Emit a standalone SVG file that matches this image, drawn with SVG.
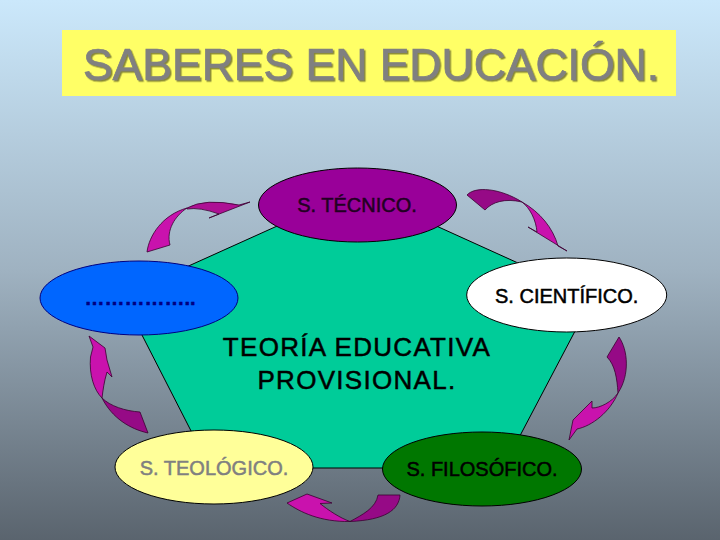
<svg xmlns="http://www.w3.org/2000/svg" width="720" height="540" viewBox="0 0 720 540">
<defs>
<linearGradient id="bg" x1="0" y1="0" x2="0" y2="1">
<stop offset="0" stop-color="#cbe8fb"/>
<stop offset="0.5" stop-color="#9fb2c1"/>
<stop offset="1" stop-color="#5a646e"/>
</linearGradient>
<filter id="sh" x="-5%" y="-20%" width="110%" height="140%">
<feDropShadow dx="1.5" dy="1.5" stdDeviation="0.4" flood-color="#7a7a30" flood-opacity="0.9"/>
</filter>
<style>
.lbl{font-family:"Liberation Sans",Arial,sans-serif;font-size:20px;text-anchor:middle;stroke-width:0.5px}
.ell{stroke:#000;stroke-width:1}
.dk{fill:#960a86;stroke:#3a0030;stroke-width:0.8;stroke-linejoin:round}
.br{fill:#c912ad;stroke:#3a0030;stroke-width:0.8;stroke-linejoin:round}
.ctr{font-family:"Liberation Sans",Arial,sans-serif;font-size:26px;letter-spacing:1.3px;text-anchor:middle;fill:#000;stroke:#000;stroke-width:0.5px}
</style>
</defs>
<rect x="0" y="0" width="720" height="540" fill="url(#bg)"/>
<g id="title">
<rect x="62" y="30" width="614" height="66" fill="#ffff66"/>
<text x="371" y="80" font-family="'Liberation Sans',Arial,sans-serif" font-size="44.5" fill="#808080" stroke="#808080" stroke-width="0.7" text-anchor="middle" filter="url(#sh)">SABERES EN EDUCACIÓN.</text>
</g>
<g id="pentagon">
<polygon points="357,190 593,297 503,468 210,468 122,296" fill="#00cc99" stroke="#000" stroke-width="1"/>
<text class="ctr" x="357" y="356">TEORÍA EDUCATIVA</text>
<text class="ctr" x="357" y="389">PROVISIONAL.</text>
</g>
<g id="connectors">
<g id="arrow1">
<path class="br" d="M147,252 C149,236 162,215 187,208 C175,216 166,230 170,245 Z"/>
<path class="br" style="fill:#ad1094" d="M187,208 Q205,198 239,205 L250,202 L209,218 L219,214 Q200,207 187,209 Z"/>
</g>
<g id="arrow2">
<path class="dk" d="M467,195 C475,186 500,188 522,202 C505,198 492,202 485,210 Z"/>
<path class="br" d="M522,202 C540,212 553,228 558,246 L567,251 L528,227 L537,232 C536,220 530,208 522,202 Z"/>
</g>
<g id="arrow3">
<path class="dk" d="M619,337 C628,350 630,375 618,393 C617,378 615,365 607,357 Z"/>
<path class="br" d="M618,393 C612,402 600,408 592,408 L592,401 L573,420 L569,440 L577,429 C592,426 610,412 618,393 Z"/>
</g>
<g id="arrow4">
<path class="dk" d="M378,495 L400,495 C399,510 385,520 350,521.5 C362,515 376,508 378,495 Z"/>
<path class="br" d="M350,521.5 C340,518 328,510 320,503.5 L332,503 L307,494 L287,503 C300,512 320,522 350,521.5 Z"/>
</g>
<g id="arrow5">
<path class="dk" d="M140,412 L148,433 C130,429 112,418 102,398 C110,406 125,411 140,412 Z"/>
<path class="br" d="M102,398 C94,390 89,375 90.5,357 L93,347 L89,336 L105,348 L107,360 L112,377 L107,372 C104,382 103,390 102,398 Z"/>
</g>
</g>
<g id="node-tecnico">
<ellipse class="ell" cx="357.5" cy="205" rx="99" ry="37" fill="#990099"/>
<text class="lbl" x="357" y="212" fill="#220022" stroke="#220022">S. TÉCNICO.</text>
</g>
<g id="node-blank">
<ellipse cx="139" cy="298" rx="99" ry="37" fill="#0066ff" stroke="#000080" stroke-width="1"/>
<text class="lbl" x="140" y="305" fill="#000080" stroke="#000080" font-weight="bold">……………..</text>
</g>
<g id="node-cientifico">
<ellipse class="ell" cx="566.7" cy="295" rx="100" ry="37" fill="#ffffff"/>
<text class="lbl" x="566.7" y="303" fill="#000" stroke="#000">S. CIENTÍFICO.</text>
</g>
<g id="node-teologico">
<ellipse class="ell" cx="214" cy="467" rx="99" ry="37" fill="#ffff99"/>
<text class="lbl" x="214" y="475" fill="#808080" stroke="#808080">S. TEOLÓGICO.</text>
</g>
<g id="node-filosofico">
<ellipse class="ell" cx="482" cy="469" rx="99.5" ry="37" fill="#007700"/>
<text class="lbl" x="482" y="476" fill="#000" stroke="#000">S. FILOSÓFICO.</text>
</g>
</svg>
